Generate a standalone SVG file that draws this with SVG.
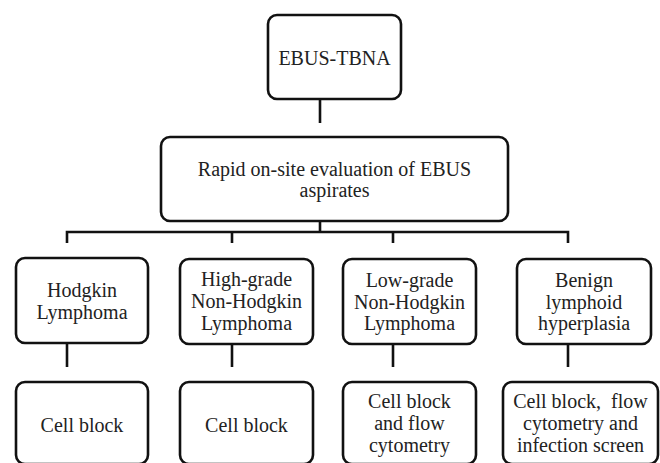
<svg xmlns="http://www.w3.org/2000/svg" width="660" height="463" viewBox="0 0 660 463" font-family="Liberation Serif, DejaVu Serif, serif" font-size="20">
<style>
.box{fill:#fff;stroke:#111;stroke-width:2.6}
.ln{fill:none;stroke:#111;stroke-width:2.6}
text{fill:#222;text-anchor:middle;white-space:pre}
</style>
<rect width="660" height="463" fill="#fff"/>
<g id="connectors">
<line class="ln" x1="320" y1="99" x2="320" y2="123"/>
<line class="ln" x1="320" y1="221" x2="320" y2="232"/>
<polyline class="ln" points="67,243 67,232 568,232 568,243"/>
<line class="ln" x1="232" y1="232" x2="232" y2="243"/>
<line class="ln" x1="393" y1="232" x2="393" y2="243"/>
<line class="ln" x1="67" y1="343" x2="67" y2="367"/>
<line class="ln" x1="232" y1="344" x2="232" y2="367"/>
<line class="ln" x1="393" y1="344" x2="393" y2="367"/>
<line class="ln" x1="568" y1="344" x2="568" y2="367"/>
</g>
<g id="ebus">
<rect class="box" x="268" y="15" width="133" height="84" rx="9"/>
<text x="334.5" y="65">EBUS-TBNA</text>
</g>
<g id="rose">
<rect class="box" x="161" y="137" width="347" height="84" rx="9"/>
<text x="334.5" y="176">Rapid on-site evaluation of EBUS</text>
<text x="334.5" y="197">aspirates</text>
</g>
<g id="hodgkin">
<rect class="box" x="16" y="258" width="132" height="85" rx="9"/>
<text x="82" y="297">Hodgkin</text>
<text x="82" y="319">Lymphoma</text>
</g>
<g id="highgrade">
<rect class="box" x="180" y="259" width="133" height="85" rx="9"/>
<text x="246.5" y="286">High-grade</text>
<text x="246.5" y="308">Non-Hodgkin</text>
<text x="246.5" y="330">Lymphoma</text>
</g>
<g id="lowgrade">
<rect class="box" x="343" y="259" width="133" height="85" rx="9"/>
<text x="409.5" y="287">Low-grade</text>
<text x="409.5" y="309">Non-Hodgkin</text>
<text x="409.5" y="330">Lymphoma</text>
</g>
<g id="benign">
<rect class="box" x="517" y="259" width="134" height="85" rx="9"/>
<text x="584" y="287">Benign</text>
<text x="584" y="309">lymphoid</text>
<text x="584" y="330">hyperplasia</text>
</g>
<g id="cellblock1">
<rect class="box" x="16" y="382" width="132" height="82" rx="9"/>
<text x="82" y="432">Cell block</text>
</g>
<g id="cellblock2">
<rect class="box" x="180" y="382" width="133" height="82" rx="9"/>
<text x="246.5" y="432">Cell block</text>
</g>
<g id="cellblockflow">
<rect class="box" x="343" y="382" width="133" height="82" rx="9"/>
<text x="409.5" y="408">Cell block</text>
<text x="409.5" y="430">and flow</text>
<text x="409.5" y="452">cytometry</text>
</g>
<g id="cellblockflowinfection">
<rect class="box" x="503" y="382" width="155" height="82" rx="9"/>
<text x="580.5" y="408">Cell block,  flow</text>
<text x="580.5" y="430">cytometry and</text>
<text x="580.5" y="452">infection screen</text>
</g>
</svg>
